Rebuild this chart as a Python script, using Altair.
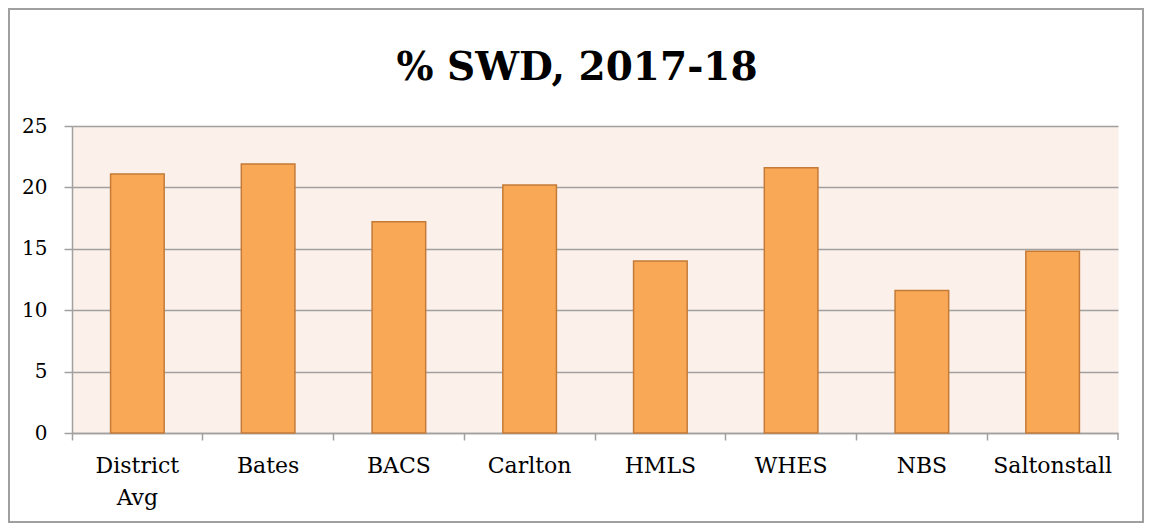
import altair as alt
import pandas as pd

schools = ["District Avg", "Bates", "BACS", "Carlton", "HMLS", "WHES", "NBS", "Saltonstall"]
pct_swd = [21.1, 21.9, 17.2, 20.2, 14.0, 21.6, 11.6, 14.8]
y_ticks = [0, 5, 10, 15, 20, 25]
title_text = "% SWD, 2017-18"

df = pd.DataFrame({"school": schools, "pct": pct_swd})

W, H = 1046, 307
GRAY = "#A0A0A0"
SERIF = "DejaVu Serif"

bars = alt.Chart(df).mark_bar(
    width=alt.RelativeBandSize(0.41),
    fill="#F9A856",
    stroke="#C47B38",
    strokeWidth=1.5,
).encode(
    x=alt.X(
        "school:N",
        sort=None,
        title=None,
        scale=alt.Scale(paddingInner=0, paddingOuter=0),
        axis=alt.Axis(
            bandPosition=0,
            labelAngle=0,
            labelFont=SERIF,
            labelFontSize=22,
            labelColor="#000000",
            labelPadding=15,
            labelLineHeight=32,
            labelExpr="split(datum.label, ' ')",
            tickSize=7,
            tickColor=GRAY,
            tickWidth=1.5,
            domainColor=GRAY,
            domainWidth=1.5,
            grid=False,
        ),
    ),
    y=alt.Y(
        "pct:Q",
        title=None,
        scale=alt.Scale(domain=[0, 25], nice=False),
        axis=alt.Axis(
            values=y_ticks,
            labelFont=SERIF,
            labelFontSize=20,
            labelColor="#000000",
            labelPadding=17,
            tickSize=8,
            tickColor=GRAY,
            tickWidth=1.5,
            domainColor=GRAY,
            domainWidth=1.5,
            gridColor=GRAY,
            gridWidth=1.5,
        ),
    ),
)

deco = pd.DataFrame({"k": [0]})
end_tick = alt.Chart(deco).mark_rule(color=GRAY, strokeWidth=1.5).encode(
    x=alt.value(W), y=alt.value(H), y2=alt.value(H + 7)
)
frame = alt.Chart(deco).mark_rect(fill="transparent", stroke=GRAY, strokeWidth=2).encode(
    x=alt.value(-63), x2=alt.value(W + 25), y=alt.value(-117), y2=alt.value(H + 89)
)
title = alt.Chart(deco).mark_text(
    font=SERIF, fontSize=39, fontWeight="bold", color="#000000",
    align="center", baseline="alphabetic",
).encode(
    x=alt.value(505), y=alt.value(-46), text=alt.value(title_text)
)

chart = alt.layer(bars, end_tick, frame, title).properties(
    width=W,
    height=H,
    autosize=alt.AutoSizeParams(type="none"),
    padding={"left": 64, "top": 118, "right": 26, "bottom": 90},
    background="#FFFFFF",
).configure_view(
    fill="#FCF0EA", stroke="transparent"
)

chart.save("out.html", embed_options={"renderer": "svg", "actions": False})
